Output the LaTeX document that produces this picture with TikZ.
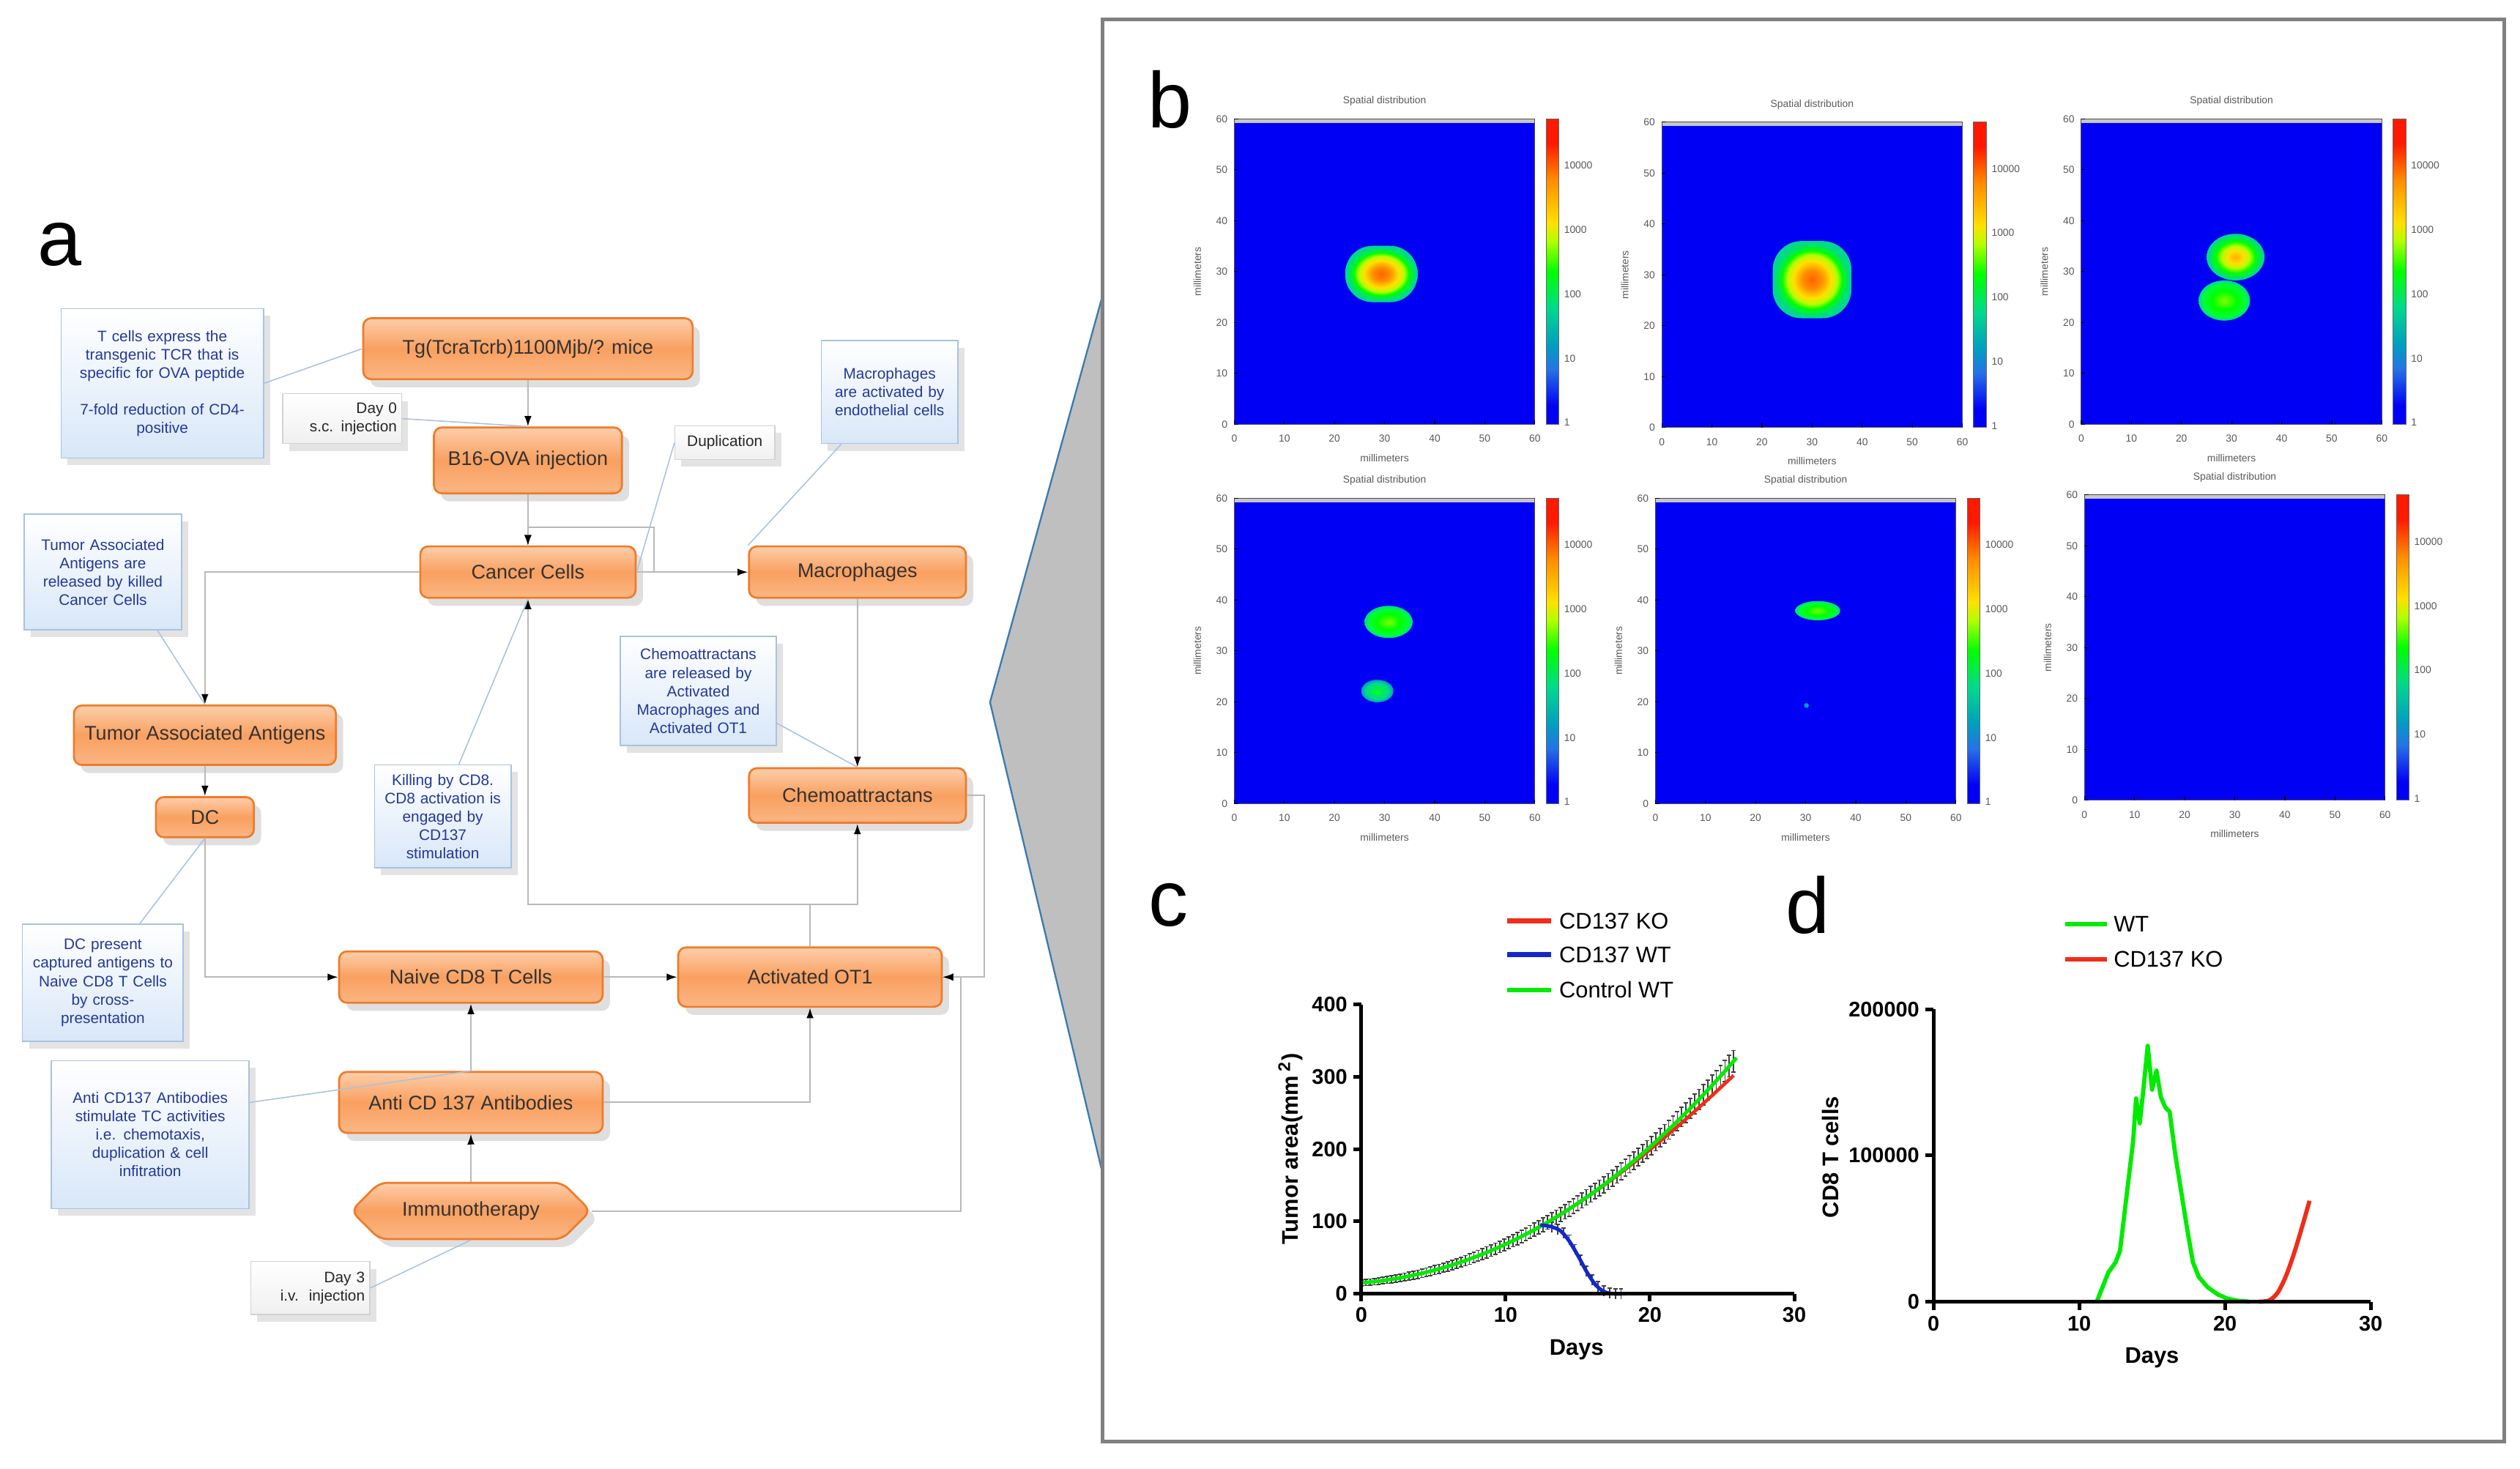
\documentclass[tikz,border=0pt]{standalone}
\usepackage{fontspec}
\setmainfont{Liberation Sans}
\usepackage{tikz}
\usetikzlibrary{arrows.meta}
\usetikzlibrary{shapes.symbols}
\usetikzlibrary{shadows}
\tikzset{>=latex}

\definecolor{boxtop}{RGB}{253,206,170}
\definecolor{boxmid}{RGB}{249,160,96}
\definecolor{boxbot}{RGB}{251,182,132}
\definecolor{boxedge}{RGB}{240,122,40}
\definecolor{memofill}{RGB}{216,231,248}
\definecolor{memoedge}{RGB}{168,194,224}
\definecolor{memotext}{RGB}{36,56,150}
\definecolor{wedgeedge}{RGB}{58,122,176}
\definecolor{framegray}{RGB}{128,128,128}
\definecolor{hmblue}{RGB}{0,0,245}
\definecolor{hmcore}{RGB}{255,100,0}
\definecolor{cbsteel}{rgb}{0.15,0.45,0.9}
\definecolor{cbteal}{rgb}{0,0.62,0.75}
\definecolor{cbsea}{rgb}{0,0.85,0.55}
\definecolor{cblime}{rgb}{0.7,1,0}
\definecolor{cbyellow}{rgb}{1,0.88,0}
\definecolor{cborange}{rgb}{1,0.55,0}
\definecolor{cbred}{rgb}{1,0.1,0}
\definecolor{plotred}{RGB}{240,45,25}
\definecolor{plotblue}{RGB}{20,40,200}
\definecolor{plotgreen}{RGB}{0,235,0}

\pgfdeclareverticalshading{cbar}{100bp}{color(0bp)=(hmblue); color(28bp)=(hmblue);
  color(34bp)=(cbsteel); color(38bp)=(cbteal); color(44bp)=(cbsea); color(50bp)=(green);
  color(55bp)=(cblime); color(58bp)=(cbyellow); color(65bp)=(cborange); color(71bp)=(cbred);
  color(100bp)=(cbred)}
\pgfdeclareradialshading{tumour}{\pgfpoint{0bp}{0bp}}{color(0bp)=(hmcore); color(6bp)=(cborange);
  color(12bp)=(cbyellow); color(16bp)=(cblime); color(19bp)=(green); color(24bp)=(cbsea);
  color(50bp)=(cbsea)}
\pgfdeclareradialshading{tumourmid}{\pgfpoint{0bp}{0bp}}{color(0bp)=(cborange!60!cbyellow);
  color(7bp)=(cbyellow); color(12bp)=(cblime); color(17bp)=(green); color(24bp)=(cbsea);
  color(50bp)=(cbsea)}
\pgfdeclareradialshading{tumourlow}{\pgfpoint{0bp}{0bp}}{color(0bp)=(cblime!70!green);
  color(12bp)=(green); color(20bp)=(green!80!cyan); color(25bp)=(cbsea); color(50bp)=(cbsea)}
\pgfdeclareradialshading{tumourfaint}{\pgfpoint{0bp}{0bp}}{color(0bp)=(green!85!cyan);
  color(18bp)=(cbsea); color(25bp)=(cbteal); color(50bp)=(cbteal)}

\tikzset{
  proc/.style={rectangle, rounded corners=1mm, draw=boxedge, line width=0.7pt,
    top color=boxtop, bottom color=boxbot, middle color=boxmid, text=black!80,
    font=\fontsize{7}{8}\selectfont, inner sep=0pt,
    drop shadow={shadow xshift=0.9mm, shadow yshift=-1mm, opacity=0.25}},
  memo/.style={rectangle, draw=memoedge, line width=0.4pt, top color=white,
    bottom color=memofill, text=memotext, font=\fontsize{5.4}{6.5}\selectfont,
    align=center, inner sep=0pt,
    drop shadow={shadow xshift=0.8mm, shadow yshift=-0.9mm, opacity=0.22}},
  tag/.style={rectangle, draw=gray!35, line width=0.4pt, top color=white,
    bottom color=gray!12, text=black!85, font=\fontsize{5.4}{6.5}\selectfont,
    inner sep=0pt, drop shadow={shadow xshift=0.8mm, shadow yshift=-0.9mm, opacity=0.22}},
  flow/.style={draw=gray!55, line width=0.5pt, -{Latex[length=1.3mm, width=0.9mm, color=black]}},
  memoline/.style={draw=memoedge, line width=0.4pt},
  hmtext/.style={font=\fontsize{3.6}{4}\selectfont, text=black!65, inner sep=0.5pt},
  axisline/.style={draw=black, line width=1.3pt},
  ticklab/.style={font=\fontsize{7.5}{8}\selectfont\bfseries, inner sep=1.5pt},
  axlab/.style={font=\fontsize{8}{9}\selectfont\bfseries},
  legtext/.style={font=\fontsize{8}{9}\selectfont, inner sep=0.5pt, anchor=west},
  errbar/.style={draw=black!75, line width=0.45pt},
  panel/.style={font=\fontsize{28}{30}\selectfont, inner sep=0pt}
}

\newcommand{\spatialmap}[4]{%
  \fill [hmblue] (#2,#3) rectangle ++(187,190);
  \begin{scope}
    \clip (#2,#3) rectangle ++(187,190);
    #4
  \end{scope}
  \fill [gray!45] (#2,#3) rectangle ++(187,2.5);
  \draw [black!70, line width=0.25pt] (#2,#3) rectangle ++(187,190);
  \foreach \kk in {0,...,6}{
    \pgfmathtruncatemacro{\lab}{10*\kk}
    \draw [black, line width=0.3pt] (#2+\kk*31.17,#3+190) -- ++(0,-2.5);
    \draw [black, line width=0.3pt] (#2,#3+190-\kk*31.67) -- ++(2.5,0);
    \node [hmtext] (#1x\kk) at (#2+\kk*31.17,#3+199) {\lab};
    \node [hmtext, anchor=east] (#1y\kk) at (#2-3,#3+190-\kk*31.67) {\lab};
  }
  \shade [shading=cbar] (#2+194,#3) rectangle ++(8,190);
  \draw [black!60, line width=0.25pt] (#2+194,#3) rectangle ++(8,190);
  \foreach \val [count=\cc from 0] in {10000,1000,100,10,1}{
    \node [hmtext, anchor=west] (#1c\cc) at (#2+204,#3+29+40*\cc) {\val};
  }
  \node [hmtext] (#1t) at (#2+93.5,#3-11) {Spatial distribution};
  \node [hmtext] (#1xl) at (#2+93.5,#3+211) {millimeters};
  \node [hmtext, rotate=90] (#1yl) at (#2-23,#3+95) {millimeters};
}

\begin{document}
\begin{tikzpicture}[x=0.2mm, y=-0.2mm]
    \useasboundingbox (0,0) rectangle (1568,914);

    \node [panel] (la) at (37,152) {a};

    \node [proc, minimum width=41mm, minimum height=7.6mm] (tg) at (328.5,217) {Tg(TcraTcrb)1100Mjb/? mice};
    \node [proc, minimum width=23.4mm, minimum height=8.2mm] (b16) at (328.5,286.5) {B16-OVA injection};
    \node [proc, minimum width=26.8mm, minimum height=6.4mm] (cancer) at (328.5,356) {Cancer Cells};
    \node [proc, minimum width=27mm, minimum height=6.4mm] (mac) at (533.5,356) {Macrophages};
    \node [proc, minimum width=32.6mm, minimum height=7.4mm] (taa) at (127.5,457.5) {Tumor Associated Antigens};
    \node [proc, minimum width=12.2mm, minimum height=5mm] (dc) at (127.5,508.5) {DC};
    \node [proc, minimum width=27mm, minimum height=6.8mm] (chem) at (533.5,495) {Chemoattractans};
    \node [proc, minimum width=32.8mm, minimum height=6.4mm] (naive) at (293,608) {Naive CD8 T Cells};
    \node [proc, minimum width=32.8mm, minimum height=7.4mm] (ot1) at (504,608) {Activated OT1};
    \node [proc, minimum width=32.8mm, minimum height=7.6mm] (anti) at (293,686) {Anti CD 137 Antibodies};
    \node [proc, signal, signal to=west and east, minimum width=29.8mm, minimum height=7mm] (immuno) at (293,753.5) {Immunotherapy};

    \node [memo, text width=25.2mm, minimum height=18.6mm] (n1) at (101,238.5)
    {T cells express the\\transgenic TCR that is\\specific for OVA peptide\\[6.5pt]7-fold reduction of CD4-\\positive};
    \node [memo, text width=17mm, minimum height=12.8mm] (macnote) at (553.5,244)
    {Macrophages\\are activated by\\endothelial cells};
    \node [memo, text width=19.6mm, minimum height=14.4mm] (taanote) at (64,356)
    {Tumor Associated\\Antigens are\\released by killed\\Cancer Cells};
    \node [memo, text width=19.4mm, minimum height=13.6mm] (chemnote) at (434.5,430)
    {Chemoattractans\\are released by\\Activated\\Macrophages and\\Activated OT1};
    \node [memo, text width=17mm, minimum height=12.8mm] (killnote) at (275.5,508)
    {Killing by CD8.\\CD8 activation is\\engaged by\\CD137\\stimulation};
    \node [memo, text width=20mm, minimum height=14.6mm] (dcnote) at (64,611.5)
    {DC present\\captured antigens to\\Naive CD8 T Cells\\by cross-\\presentation};
    \node [memo, text width=24.6mm, minimum height=18.4mm] (antinote) at (93.5,706)
    {Anti CD137 Antibodies\\stimulate TC activities\\i.e. chemotaxis,\\duplication \& cell\\infitration};

    \node [tag, align=right, text width=13.6mm, minimum width=14.8mm, minimum height=6.2mm] (day0) at (213,260.5)
    {Day 0\\s.c. injection};
    \node [tag, align=center, text width=12.4mm, minimum height=4.2mm] (dup) at (451,275.5) {Duplication};
    \node [tag, align=right, text width=13.6mm, minimum width=14.8mm, minimum height=6.6mm] (day3) at (193,801.5)
    {Day 3\\i.v.\ \ injection};

    \draw [flow] (tg) -- (b16);
    \draw [flow] (b16) -- (cancer);
    \coordinate (dupbend) at (407,328);
    \draw [flow] (cancer.east) -| (dupbend) -| (cancer.north);
    \draw [flow] (cancer) -- (mac);
    \draw [flow] (cancer.west) -| (taa.north);
    \draw [flow] (taa) -- (dc);
    \draw [flow] (dc.south) |- (naive.west);
    \draw [flow] (naive) -- (ot1);
    \draw [flow] (mac) -- (chem);
    \draw [flow] (chem.east) -- ++(11,0) |- (ot1.east);
    \draw [flow] (ot1.north) -- ++(0,-26) -| (cancer.south);
    \draw [flow] (ot1.north) -- ++(0,-26) -| (chem.south);
    \draw [flow] (anti) -- (naive);
    \draw [flow] (anti.east) -| (ot1.south);
    \draw [flow] (immuno) -- (anti);
    \coordinate (imbend) at (598,753.5);
    \draw [flow] (immuno.east) -- (imbend) |- (ot1.east);

    \draw [memoline] (n1.east) -- (tg.west);
    \draw [memoline] (day0.east) -- (b16.north);
    \draw [memoline] (dup.west) -- (cancer.east);
    \draw [memoline] ([xshift=-6mm]macnote.south) -- (mac.north west);
    \draw [memoline] ([xshift=6.8mm]taanote.south) -- (taa.north);
    \draw [memoline] ([yshift=-4mm]chemnote.east) -- (chem.north);
    \draw [memoline] ([xshift=2mm]killnote.north) -- (cancer.south);
    \draw [memoline] ([xshift=4.6mm]dcnote.north) -- (dc.south);
    \draw [memoline] ([yshift=4mm]antinote.east) -- (anti.north);
    \draw [memoline] (day3.east) -- (immuno.south);

    \filldraw [fill=gray!50, draw=wedgeedge, line width=0.6pt] (686,184) -- (616,437) -- (686,730) -- cycle;
    \draw [framegray, line width=1.3pt] (686,12) rectangle (1558,897);

    \node [panel] (lb) at (728,62) {b};

    \spatialmap{ma}{768}{74}{
      \shade [shading=tumour, rounded corners=3.4mm] (837,153) rectangle (882,188);}
    \spatialmap{mb}{1034}{76}{
      \shade [shading=tumour, rounded corners=3.6mm] (1103,150) rectangle (1152,198);}
    \spatialmap{mc}{1295}{74}{
      \shade [shading=tumourlow] (1384,187) ellipse [x radius=3.2mm, y radius=2.5mm];
      \shade [shading=tumourmid] (1391,160) ellipse [x radius=3.6mm, y radius=2.9mm];}
    \spatialmap{md}{768}{310}{
      \shade [shading=tumourlow] (864,387) ellipse [x radius=3mm, y radius=2mm];
      \shade [shading=tumourfaint] (857,430) ellipse [x radius=2mm, y radius=1.4mm];}
    \spatialmap{me}{1030}{310}{
      \shade [shading=tumourlow] (1131,380) ellipse [x radius=2.8mm, y radius=1.2mm];
      \fill [cbteal] (1124,439) circle [radius=0.3mm];}
    \spatialmap{mf}{1297}{308}{}

    \node [panel] (lc) at (727,563) {c};
    \node [panel] (ld) at (1125,563) {d};

    \draw [plotred, line width=1.7pt] (938,573) -- (965,573);
    \node [legtext] (legko) at (969,573) {CD137 KO};
    \draw [plotblue, line width=1.7pt] (938,594) -- (965,594);
    \node [legtext] (legwt) at (969,594) {CD137 WT};
    \draw [plotgreen, line width=1.7pt] (938,616) -- (965,616);
    \node [legtext] (legctl) at (969,616) {Control WT};

    \begin{scope}[shift={(169.4mm,-161mm)}, x=1.796mm, y=0.09mm]
      \foreach \dd in {0,0.3,...,26}{
        \pgfmathsetmacro{\cmean}{15+1.6*\dd+0.36*\dd*\dd+0.0015*\dd*\dd*\dd}
        \pgfmathsetmacro{\cerr}{4+0.42*\dd}
        \draw [errbar] (\dd,\cmean-\cerr) -- (\dd,\cmean+\cerr);
        \draw [errbar] (\dd-0.15,\cmean+\cerr) -- (\dd+0.15,\cmean+\cerr);
        \draw [errbar] (\dd-0.15,\cmean-\cerr) -- (\dd+0.15,\cmean-\cerr);
      }
      \foreach \dd/\cmean in {13.2/92,13.6/89,14/84,14.4/74,14.8/61,15.2/46,15.6/31,16/19,16.4/10,16.8/4,17.2/1,17.6/0,18/0}{
        \draw [errbar] (\dd,\cmean-7) -- (\dd,\cmean+7);
        \draw [errbar] (\dd-0.15,\cmean+7) -- (\dd+0.15,\cmean+7);
      }
      \draw [plotred, line width=1.2pt] plot [domain=12:25.8, samples=40]
        (\x,{15+1.6*\x+0.36*\x*\x+0.0015*\x*\x*\x-0.0075*(\x-12)*(\x-12)*(\x-12)});
      \draw [plotgreen, line width=1.3pt] plot [domain=0:26, samples=60]
        (\x,{15+1.6*\x+0.36*\x*\x+0.0015*\x*\x*\x});
      \draw [plotblue, line width=1.3pt] plot [smooth] coordinates
        {(12.4,95) (13.1,93) (13.8,87) (14.4,73) (15,53) (15.6,31) (16.2,13) (16.8,3) (17.4,0) (18.3,0)};
      \draw [axisline] (0,400) -- (0,0) -- (30,0);
      \foreach \val in {0,100,200,300,400}
        \draw [axisline] (0,\val) -- (-0.55,\val) node [ticklab, left] (cy\val) {\val};
      \foreach \dd in {0,10,20,30}
        \draw [axisline] (\dd,0) -- (\dd,-11) node [ticklab, below] (cx\dd) {\dd};
    \end{scope}
    \node [axlab] (cdays) at (981,840) {Days};
    \node [axlab, rotate=90] (carea) at (803,715) {Tumor area(mm\,\textsuperscript{2})};

    \draw [plotgreen, line width=1.7pt] (1285,575) -- (1311,575);
    \node [legtext] (legdwt) at (1314,575) {WT};
    \draw [plotred, line width=1.7pt] (1285,597) -- (1311,597);
    \node [legtext] (legdko) at (1314,597) {CD137 KO};

    \begin{scope}[shift={(240.6mm,-162mm)}, x=1.814mm, y=0.182mm]
      \draw [plotgreen, line width=1.5pt, line join=round] plot coordinates
        {(11.2,0) (11.6,10) (12.0,20) (12.5,27) (12.8,35) (13.1,60) (13.4,85) (13.7,110)
         (13.9,139) (14.15,122) (14.4,145) (14.7,175) (15.0,145) (15.3,158) (15.6,140)
         (15.9,133) (16.2,130) (16.6,100) (17.0,75) (17.4,50) (17.8,27) (18.2,17)
         (18.8,10) (19.5,5) (20.2,2) (21.0,0.5) (21.7,0)};
      \draw [plotred, line width=1.5pt] plot [smooth] coordinates
        {(22.3,0) (23.0,0.8) (23.6,6) (24.2,18) (24.8,35) (25.4,55) (25.8,69)};
      \draw [axisline] (0,200) -- (0,0) -- (30,0);
      \foreach \val/\txt in {0/0,100/100000,200/200000}
        \draw [axisline] (0,\val) -- (-0.55,\val) node [ticklab, left] (dy\val) {\txt};
      \foreach \dd in {0,10,20,30}
        \draw [axisline] (\dd,0) -- (\dd,-5.5) node [ticklab, below] (dx\dd) {\dd};
    \end{scope}
    \node [axlab] (ddays) at (1339,845) {Days};
    \node [axlab, rotate=90] (dcells) at (1139,720) {CD8 T cells};
\end{tikzpicture}
\end{document}
